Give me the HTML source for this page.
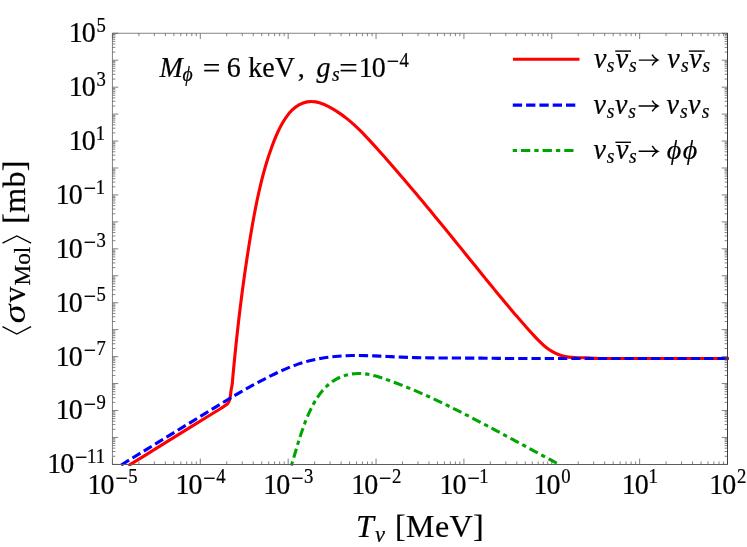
<!DOCTYPE html>
<html><head><meta charset="utf-8"><title>plot</title>
<style>
html,body{margin:0;padding:0;background:#fff;}
body{width:747px;height:547px;overflow:hidden;}
svg{display:block;will-change:transform;}
text{font-family:"Liberation Serif",serif;fill:#000;stroke:#000;stroke-width:0.22px;}
.i{font-style:italic;}
</style></head><body>
<svg width="747" height="547" viewBox="0 0 747 547">
<rect x="0" y="0" width="747" height="547" fill="#fff"/>
<text transform="translate(112.65 493.50) scale(1 1.075)" font-size="28" text-anchor="middle"><tspan letter-spacing="-1">10</tspan><tspan font-size="22" dx="1.9" dy="-7.26">−</tspan><tspan font-size="18.7" dx="0.50" dy="-2.33">5</tspan></text>
<text transform="translate(200.51 493.50) scale(1 1.075)" font-size="28" text-anchor="middle"><tspan letter-spacing="-1">10</tspan><tspan font-size="22" dx="1.9" dy="-7.26">−</tspan><tspan font-size="18.7" dx="0.50" dy="-2.33">4</tspan></text>
<text transform="translate(288.38 493.50) scale(1 1.075)" font-size="28" text-anchor="middle"><tspan letter-spacing="-1">10</tspan><tspan font-size="22" dx="1.9" dy="-7.26">−</tspan><tspan font-size="18.7" dx="0.50" dy="-2.33">3</tspan></text>
<text transform="translate(376.24 493.50) scale(1 1.075)" font-size="28" text-anchor="middle"><tspan letter-spacing="-1">10</tspan><tspan font-size="22" dx="1.9" dy="-7.26">−</tspan><tspan font-size="18.7" dx="0.50" dy="-2.33">2</tspan></text>
<text transform="translate(464.11 493.50) scale(1 1.075)" font-size="28" text-anchor="middle"><tspan letter-spacing="-1">10</tspan><tspan font-size="22" dx="1.9" dy="-7.26">−</tspan><tspan font-size="18.7" dx="-0.50" dy="-2.33">1</tspan></text>
<text transform="translate(551.97 493.50) scale(1 1.075)" font-size="28" text-anchor="middle"><tspan letter-spacing="-1">10</tspan><tspan font-size="18.7" dx="1.80" dy="-9.58">0</tspan></text>
<text transform="translate(639.84 493.50) scale(1 1.075)" font-size="28" text-anchor="middle"><tspan letter-spacing="-1">10</tspan><tspan font-size="18.7" dx="0.80" dy="-9.58">1</tspan></text>
<text transform="translate(727.70 493.50) scale(1 1.075)" font-size="28" text-anchor="middle"><tspan letter-spacing="-1">10</tspan><tspan font-size="18.7" dx="1.80" dy="-9.58">2</tspan></text>
<text transform="translate(105.00 473.27) scale(1 1.075)" font-size="28" text-anchor="end"><tspan letter-spacing="-1">10</tspan><tspan font-size="22" dx="1.9" dy="-7.26">−</tspan><tspan font-size="18.7" dx="-0.50" dy="-2.33">11</tspan></text>
<text transform="translate(105.90 419.38) scale(1 1.075)" font-size="28" text-anchor="end"><tspan letter-spacing="-1">10</tspan><tspan font-size="22" dx="1.9" dy="-7.26">−</tspan><tspan font-size="18.7" dx="0.50" dy="-2.33">9</tspan></text>
<text transform="translate(105.90 365.50) scale(1 1.075)" font-size="28" text-anchor="end"><tspan letter-spacing="-1">10</tspan><tspan font-size="22" dx="1.9" dy="-7.26">−</tspan><tspan font-size="18.7" dx="0.50" dy="-2.33">7</tspan></text>
<text transform="translate(105.90 311.61) scale(1 1.075)" font-size="28" text-anchor="end"><tspan letter-spacing="-1">10</tspan><tspan font-size="22" dx="1.9" dy="-7.26">−</tspan><tspan font-size="18.7" dx="0.50" dy="-2.33">5</tspan></text>
<text transform="translate(105.90 257.72) scale(1 1.075)" font-size="28" text-anchor="end"><tspan letter-spacing="-1">10</tspan><tspan font-size="22" dx="1.9" dy="-7.26">−</tspan><tspan font-size="18.7" dx="0.50" dy="-2.33">3</tspan></text>
<text transform="translate(105.00 203.83) scale(1 1.075)" font-size="28" text-anchor="end"><tspan letter-spacing="-1">10</tspan><tspan font-size="22" dx="1.9" dy="-7.26">−</tspan><tspan font-size="18.7" dx="-0.50" dy="-2.33">1</tspan></text>
<text transform="translate(105.00 149.95) scale(1 1.075)" font-size="28" text-anchor="end"><tspan letter-spacing="-1">10</tspan><tspan font-size="18.7" dx="0.80" dy="-9.58">1</tspan></text>
<text transform="translate(105.90 96.06) scale(1 1.075)" font-size="28" text-anchor="end"><tspan letter-spacing="-1">10</tspan><tspan font-size="18.7" dx="1.80" dy="-9.58">3</tspan></text>
<text transform="translate(105.90 42.17) scale(1 1.075)" font-size="28" text-anchor="end"><tspan letter-spacing="-1">10</tspan><tspan font-size="18.7" dx="1.80" dy="-9.58">5</tspan></text>
<defs><clipPath id="cp"><rect x="110.85" y="31.67" width="618.25" height="434.30"/></clipPath></defs>
<g clip-path="url(#cp)" fill="none">
<path d="M128.33 465.70C128.65 465.50 128.98 465.30 129.30 465.10C136.93 460.37 144.57 455.64 152.20 450.90C161.47 445.14 170.72 439.35 180.00 433.60C188.03 428.62 196.05 423.64 204.10 418.70C208.13 416.23 212.18 413.78 216.20 411.30C218.14 410.10 220.09 408.94 222.00 407.70C223.21 406.92 224.46 406.18 225.60 405.30C226.29 404.76 227.02 404.24 227.60 403.60C228.09 403.06 228.55 402.44 228.90 401.80C229.32 401.03 229.56 400.15 229.80 399.30C230.19 397.91 230.29 396.44 230.50 395.00C230.77 393.17 230.90 391.32 231.20 389.50C231.45 387.99 231.85 386.51 232.10 385.00C232.57 382.08 232.63 379.10 232.90 376.15C233.18 373.21 233.45 370.26 233.74 367.32C234.02 364.37 234.31 361.43 234.60 358.48C234.89 355.54 235.19 352.60 235.49 349.65C235.79 346.71 236.10 343.77 236.42 340.83C236.73 337.89 237.05 334.95 237.37 332.01C237.70 329.08 238.03 326.14 238.37 323.20C238.71 320.27 239.05 317.33 239.40 314.40C239.75 311.46 240.11 308.53 240.47 305.60C240.84 302.66 241.21 299.73 241.58 296.80C241.96 293.87 242.34 290.94 242.74 288.01C243.13 285.08 243.53 282.15 243.93 279.22C244.34 276.29 244.75 273.37 245.18 270.44C245.60 267.51 246.03 264.59 246.47 261.66C246.90 258.74 247.35 255.81 247.80 252.89C248.26 249.97 248.72 247.04 249.19 244.12C249.66 241.20 250.14 238.28 250.63 235.36C251.12 232.44 251.62 229.52 252.12 226.60C252.63 223.68 253.15 220.76 253.68 217.85C254.22 214.93 254.76 212.02 255.33 209.11C255.89 206.21 256.47 203.30 257.08 200.40C257.68 197.51 258.30 194.62 258.95 191.73C259.60 188.85 260.28 185.97 260.98 183.10C261.68 180.23 262.41 177.37 263.18 174.52C263.94 171.67 264.73 168.83 265.56 166.00C266.39 163.18 267.26 160.36 268.16 157.55C269.07 154.75 270.01 151.96 271.00 149.19C271.98 146.41 273.00 143.64 274.09 140.90C275.17 138.16 276.29 135.42 277.52 132.74C278.75 130.04 280.05 127.35 281.49 124.75C282.96 122.12 284.48 119.50 286.24 117.06C287.98 114.64 289.83 112.23 291.98 110.18C294.08 108.18 296.40 106.25 298.93 104.86C301.45 103.48 304.31 102.35 307.13 101.86C309.92 101.36 312.96 101.43 315.77 101.86C318.66 102.30 321.50 103.42 324.22 104.53C327.00 105.66 329.65 107.14 332.26 108.62C334.84 110.08 337.35 111.69 339.80 113.37C342.23 115.04 344.59 116.82 346.90 118.65C349.20 120.49 351.44 122.41 353.63 124.38C355.83 126.35 357.96 128.40 360.06 130.47C362.17 132.54 364.23 134.67 366.27 136.81C368.31 138.96 370.31 141.15 372.31 143.34C374.31 145.53 376.29 147.74 378.27 149.95C380.24 152.15 382.21 154.37 384.17 156.59C386.13 158.80 388.09 161.03 390.04 163.26C391.99 165.48 393.93 167.71 395.87 169.95C397.80 172.18 399.73 174.42 401.66 176.67C403.58 178.91 405.50 181.16 407.41 183.41C409.33 185.66 411.23 187.91 413.14 190.17C415.04 192.43 416.94 194.69 418.84 196.95C420.73 199.22 422.62 201.49 424.51 203.76C426.40 206.03 428.28 208.30 430.17 210.57C432.05 212.85 433.92 215.13 435.80 217.41C437.68 219.69 439.55 221.97 441.42 224.26C443.29 226.54 445.16 228.83 447.03 231.12C448.89 233.41 450.76 235.70 452.62 237.99C454.49 240.29 456.35 242.58 458.21 244.88C460.07 247.17 461.94 249.47 463.80 251.77C465.66 254.07 467.52 256.37 469.38 258.67C471.24 260.97 473.10 263.27 474.97 265.58C476.83 267.88 478.69 270.18 480.56 272.49C482.42 274.79 484.29 277.10 486.15 279.40C488.02 281.70 489.89 284.00 491.77 286.30C493.64 288.60 495.52 290.90 497.40 293.19C499.28 295.48 501.17 297.77 503.06 300.05C504.95 302.32 506.85 304.60 508.75 306.86C510.66 309.12 512.57 311.38 514.49 313.63C516.41 315.87 518.33 318.10 520.27 320.33C522.20 322.55 524.15 324.76 526.11 326.96C528.06 329.15 530.02 331.34 532.00 333.50C533.98 335.66 535.93 337.85 537.99 339.93C540.04 342.00 542.10 344.10 544.35 345.96C546.62 347.84 549.01 349.64 551.55 351.14C554.13 352.67 556.88 354.01 559.70 355.01C562.50 356.01 565.46 356.70 568.40 357.14C571.33 357.59 574.34 357.61 577.31 357.71C580.28 357.81 583.26 357.63 586.23 357.74C589.16 357.85 592.08 358.20 595.00 358.35C603.32 358.79 611.67 358.42 620.00 358.45C656.33 358.57 692.67 358.45 729.00 358.45" stroke="#ff0000" stroke-width="3.1" stroke-linejoin="round"/>
<path d="M120.30 465.50C120.73 465.23 121.17 464.97 121.60 464.70C134.13 457.02 146.67 449.34 159.20 441.65C174.17 432.47 189.14 423.29 204.10 414.10C206.08 412.89 208.06 411.67 210.03 410.46C212.02 409.24 214.00 408.02 215.98 406.81C217.97 405.59 219.96 404.37 221.96 403.16C223.96 401.95 225.96 400.74 227.96 399.54C229.97 398.33 231.98 397.13 234.00 395.94C236.02 394.74 238.04 393.55 240.07 392.38C242.11 391.20 244.14 390.02 246.19 388.87C248.24 387.71 250.30 386.56 252.36 385.42C254.43 384.28 256.50 383.16 258.58 382.05C260.67 380.94 262.76 379.84 264.87 378.76C266.97 377.68 269.09 376.62 271.21 375.57C273.34 374.53 275.48 373.50 277.63 372.50C279.79 371.49 281.95 370.51 284.12 369.57C286.29 368.63 288.48 367.72 290.68 366.85C292.87 365.99 295.07 365.17 297.30 364.40C299.51 363.64 301.74 362.93 303.98 362.28C306.21 361.62 308.45 361.02 310.71 360.47C312.96 359.92 315.23 359.42 317.50 358.97C319.77 358.52 322.05 358.12 324.34 357.77C326.62 357.41 328.92 357.11 331.22 356.84C333.52 356.58 335.83 356.36 338.14 356.18C340.46 356.00 342.78 355.87 345.10 355.76C347.43 355.66 349.76 355.60 352.09 355.56C354.43 355.52 356.78 355.51 359.12 355.52C361.46 355.54 363.81 355.58 366.16 355.64C368.51 355.69 370.87 355.77 373.22 355.86C375.58 355.94 377.94 356.05 380.29 356.15C382.65 356.26 385.01 356.38 387.37 356.49C389.73 356.60 392.09 356.72 394.45 356.83C396.81 356.94 399.17 357.05 401.53 357.15C403.88 357.25 406.24 357.33 408.60 357.41C410.95 357.49 413.30 357.55 415.66 357.61C418.01 357.67 420.36 357.72 422.71 357.77C425.05 357.81 427.40 357.85 429.75 357.88C432.10 357.91 434.44 357.93 436.79 357.96C439.13 357.98 441.48 357.99 443.82 358.01C446.17 358.02 448.51 358.03 450.85 358.04C453.19 358.05 455.53 358.06 457.88 358.06C460.22 358.07 462.56 358.07 464.90 358.08C467.24 358.09 469.58 358.10 471.92 358.11C474.26 358.12 476.60 358.13 478.94 358.14C481.28 358.16 483.62 358.17 485.96 358.20C488.30 358.22 490.64 358.25 492.98 358.28C495.32 358.31 497.66 358.36 500.00 358.40C520.00 358.71 540.00 358.44 560.00 358.45C616.33 358.48 672.67 358.45 729.00 358.45" stroke="#0000ff" stroke-width="3.1" stroke-dasharray="9.28 4" stroke-dashoffset="25.53"/>
<path d="M291.02 466.60C291.08 466.40 291.14 466.20 291.20 466.00C291.78 464.12 292.36 462.25 292.93 460.37C293.49 458.51 294.04 456.64 294.60 454.77C295.16 452.92 295.70 451.06 296.26 449.21C296.81 447.36 297.37 445.51 297.93 443.66C298.50 441.82 299.07 439.97 299.65 438.13C300.24 436.29 300.84 434.45 301.45 432.61C302.07 430.77 302.71 428.93 303.37 427.09C304.03 425.24 304.71 423.40 305.42 421.57C306.14 419.72 306.88 417.87 307.66 416.05C308.44 414.21 309.25 412.38 310.11 410.58C310.97 408.78 311.86 406.99 312.80 405.23C313.74 403.49 314.72 401.75 315.77 400.06C316.81 398.39 317.89 396.73 319.04 395.13C320.19 393.54 321.39 391.98 322.66 390.49C323.92 389.02 325.25 387.59 326.65 386.25C328.05 384.92 329.51 383.65 331.05 382.49C332.59 381.34 334.21 380.28 335.88 379.34C337.55 378.39 339.30 377.56 341.08 376.83C342.86 376.11 344.70 375.49 346.55 375.00C348.40 374.50 350.29 374.12 352.19 373.86C354.08 373.60 356.00 373.46 357.90 373.43C359.80 373.41 361.72 373.52 363.61 373.70C365.52 373.89 367.42 374.20 369.31 374.56C371.21 374.92 373.10 375.38 374.98 375.87C376.88 376.37 378.76 376.95 380.63 377.54C382.52 378.13 384.38 378.78 386.25 379.42C388.12 380.07 389.97 380.74 391.83 381.42C393.68 382.10 395.53 382.79 397.37 383.49C399.21 384.19 401.05 384.90 402.88 385.63C404.71 386.35 406.53 387.08 408.35 387.83C410.17 388.57 411.99 389.32 413.79 390.09C415.60 390.85 417.40 391.62 419.20 392.40C421.00 393.19 422.79 393.98 424.58 394.77C426.37 395.57 428.16 396.38 429.94 397.19C431.72 398.01 433.49 398.83 435.26 399.66C437.03 400.48 438.80 401.32 440.56 402.16C442.33 403.00 444.09 403.85 445.84 404.71C447.60 405.56 449.35 406.42 451.10 407.28C452.85 408.15 454.60 409.02 456.34 409.89C458.08 410.77 459.82 411.65 461.56 412.53C463.30 413.41 465.03 414.30 466.77 415.19C468.50 416.08 470.23 416.98 471.96 417.87C473.68 418.77 475.41 419.67 477.14 420.57C478.86 421.47 480.58 422.37 482.30 423.28C484.02 424.18 485.74 425.09 487.46 426.00C489.18 426.90 490.89 427.81 492.61 428.72C494.32 429.63 496.04 430.54 497.75 431.46C499.47 432.37 501.18 433.28 502.89 434.20C504.60 435.11 506.32 436.03 508.03 436.94C509.74 437.86 511.45 438.78 513.16 439.70C514.87 440.61 516.59 441.54 518.30 442.46C520.01 443.38 521.72 444.30 523.44 445.22C525.15 446.15 526.86 447.07 528.58 448.00C530.29 448.93 532.01 449.85 533.72 450.78C535.44 451.71 537.16 452.64 538.88 453.57C540.60 454.50 542.32 455.43 544.04 456.37C545.77 457.30 547.49 458.24 549.22 459.17C550.94 460.11 552.67 461.04 554.40 461.98C556.13 462.92 557.87 463.86 559.60 464.80" stroke="#00a600" stroke-width="3.1" stroke-dasharray="4.3 4 9.3 4" stroke-dashoffset="20.52"/>
</g>
<path d="M112.45 464.37v-5.8M112.45 33.27v5.8M138.90 464.37v-2.9M138.90 33.27v2.9M154.37 464.37v-2.9M154.37 33.27v2.9M165.35 464.37v-2.9M165.35 33.27v2.9M173.86 464.37v-2.9M173.86 33.27v2.9M180.82 464.37v-2.9M180.82 33.27v2.9M186.70 464.37v-2.9M186.70 33.27v2.9M191.80 464.37v-2.9M191.80 33.27v2.9M196.29 464.37v-2.9M196.29 33.27v2.9M200.31 464.37v-5.8M200.31 33.27v5.8M226.76 464.37v-2.9M226.76 33.27v2.9M242.24 464.37v-2.9M242.24 33.27v2.9M253.21 464.37v-2.9M253.21 33.27v2.9M261.73 464.37v-2.9M261.73 33.27v2.9M268.69 464.37v-2.9M268.69 33.27v2.9M274.57 464.37v-2.9M274.57 33.27v2.9M279.66 464.37v-2.9M279.66 33.27v2.9M284.16 464.37v-2.9M284.16 33.27v2.9M288.18 464.37v-5.8M288.18 33.27v5.8M314.63 464.37v-2.9M314.63 33.27v2.9M330.10 464.37v-2.9M330.10 33.27v2.9M341.08 464.37v-2.9M341.08 33.27v2.9M349.59 464.37v-2.9M349.59 33.27v2.9M356.55 464.37v-2.9M356.55 33.27v2.9M362.43 464.37v-2.9M362.43 33.27v2.9M367.53 464.37v-2.9M367.53 33.27v2.9M372.02 464.37v-2.9M372.02 33.27v2.9M376.04 464.37v-5.8M376.04 33.27v5.8M402.49 464.37v-2.9M402.49 33.27v2.9M417.96 464.37v-2.9M417.96 33.27v2.9M428.94 464.37v-2.9M428.94 33.27v2.9M437.46 464.37v-2.9M437.46 33.27v2.9M444.41 464.37v-2.9M444.41 33.27v2.9M450.30 464.37v-2.9M450.30 33.27v2.9M455.39 464.37v-2.9M455.39 33.27v2.9M459.89 464.37v-2.9M459.89 33.27v2.9M463.91 464.37v-5.8M463.91 33.27v5.8M490.36 464.37v-2.9M490.36 33.27v2.9M505.83 464.37v-2.9M505.83 33.27v2.9M516.81 464.37v-2.9M516.81 33.27v2.9M525.32 464.37v-2.9M525.32 33.27v2.9M532.28 464.37v-2.9M532.28 33.27v2.9M538.16 464.37v-2.9M538.16 33.27v2.9M543.26 464.37v-2.9M543.26 33.27v2.9M547.75 464.37v-2.9M547.75 33.27v2.9M551.77 464.37v-5.8M551.77 33.27v5.8M578.22 464.37v-2.9M578.22 33.27v2.9M593.69 464.37v-2.9M593.69 33.27v2.9M604.67 464.37v-2.9M604.67 33.27v2.9M613.19 464.37v-2.9M613.19 33.27v2.9M620.14 464.37v-2.9M620.14 33.27v2.9M626.03 464.37v-2.9M626.03 33.27v2.9M631.12 464.37v-2.9M631.12 33.27v2.9M635.62 464.37v-2.9M635.62 33.27v2.9M639.64 464.37v-5.8M639.64 33.27v5.8M666.09 464.37v-2.9M666.09 33.27v2.9M681.56 464.37v-2.9M681.56 33.27v2.9M692.54 464.37v-2.9M692.54 33.27v2.9M701.05 464.37v-2.9M701.05 33.27v2.9M708.01 464.37v-2.9M708.01 33.27v2.9M713.89 464.37v-2.9M713.89 33.27v2.9M718.99 464.37v-2.9M718.99 33.27v2.9M723.48 464.37v-2.9M723.48 33.27v2.9M727.50 464.37v-5.8M727.50 33.27v5.8M112.45 464.37h5.8M727.50 464.37h-5.8M112.45 456.26h2.9M727.50 456.26h-2.9M112.45 451.51h2.9M727.50 451.51h-2.9M112.45 448.15h2.9M727.50 448.15h-2.9M112.45 445.54h2.9M727.50 445.54h-2.9M112.45 443.40h2.9M727.50 443.40h-2.9M112.45 441.60h2.9M727.50 441.60h-2.9M112.45 440.04h2.9M727.50 440.04h-2.9M112.45 438.66h2.9M727.50 438.66h-2.9M112.45 437.43h5.8M727.50 437.43h-5.8M112.45 429.32h2.9M727.50 429.32h-2.9M112.45 424.57h2.9M727.50 424.57h-2.9M112.45 421.20h2.9M727.50 421.20h-2.9M112.45 418.59h2.9M727.50 418.59h-2.9M112.45 416.46h2.9M727.50 416.46h-2.9M112.45 414.66h2.9M727.50 414.66h-2.9M112.45 413.09h2.9M727.50 413.09h-2.9M112.45 411.72h2.9M727.50 411.72h-2.9M112.45 410.48h5.8M727.50 410.48h-5.8M112.45 402.37h2.9M727.50 402.37h-2.9M112.45 397.63h2.9M727.50 397.63h-2.9M112.45 394.26h2.9M727.50 394.26h-2.9M112.45 391.65h2.9M727.50 391.65h-2.9M112.45 389.52h2.9M727.50 389.52h-2.9M112.45 387.71h2.9M727.50 387.71h-2.9M112.45 386.15h2.9M727.50 386.15h-2.9M112.45 384.77h2.9M727.50 384.77h-2.9M112.45 383.54h5.8M727.50 383.54h-5.8M112.45 375.43h2.9M727.50 375.43h-2.9M112.45 370.68h2.9M727.50 370.68h-2.9M112.45 367.32h2.9M727.50 367.32h-2.9M112.45 364.71h2.9M727.50 364.71h-2.9M112.45 362.57h2.9M727.50 362.57h-2.9M112.45 360.77h2.9M727.50 360.77h-2.9M112.45 359.21h2.9M727.50 359.21h-2.9M112.45 357.83h2.9M727.50 357.83h-2.9M112.45 356.60h5.8M727.50 356.60h-5.8M112.45 348.48h2.9M727.50 348.48h-2.9M112.45 343.74h2.9M727.50 343.74h-2.9M112.45 340.37h2.9M727.50 340.37h-2.9M112.45 337.76h2.9M727.50 337.76h-2.9M112.45 335.63h2.9M727.50 335.63h-2.9M112.45 333.82h2.9M727.50 333.82h-2.9M112.45 332.26h2.9M727.50 332.26h-2.9M112.45 330.88h2.9M727.50 330.88h-2.9M112.45 329.65h5.8M727.50 329.65h-5.8M112.45 321.54h2.9M727.50 321.54h-2.9M112.45 316.80h2.9M727.50 316.80h-2.9M112.45 313.43h2.9M727.50 313.43h-2.9M112.45 310.82h2.9M727.50 310.82h-2.9M112.45 308.68h2.9M727.50 308.68h-2.9M112.45 306.88h2.9M727.50 306.88h-2.9M112.45 305.32h2.9M727.50 305.32h-2.9M112.45 303.94h2.9M727.50 303.94h-2.9M112.45 302.71h5.8M727.50 302.71h-5.8M112.45 294.60h2.9M727.50 294.60h-2.9M112.45 289.85h2.9M727.50 289.85h-2.9M112.45 286.49h2.9M727.50 286.49h-2.9M112.45 283.87h2.9M727.50 283.87h-2.9M112.45 281.74h2.9M727.50 281.74h-2.9M112.45 279.94h2.9M727.50 279.94h-2.9M112.45 278.37h2.9M727.50 278.37h-2.9M112.45 277.00h2.9M727.50 277.00h-2.9M112.45 275.76h5.8M727.50 275.76h-5.8M112.45 267.65h2.9M727.50 267.65h-2.9M112.45 262.91h2.9M727.50 262.91h-2.9M112.45 259.54h2.9M727.50 259.54h-2.9M112.45 256.93h2.9M727.50 256.93h-2.9M112.45 254.80h2.9M727.50 254.80h-2.9M112.45 252.99h2.9M727.50 252.99h-2.9M112.45 251.43h2.9M727.50 251.43h-2.9M112.45 250.05h2.9M727.50 250.05h-2.9M112.45 248.82h5.8M727.50 248.82h-5.8M112.45 240.71h2.9M727.50 240.71h-2.9M112.45 235.96h2.9M727.50 235.96h-2.9M112.45 232.60h2.9M727.50 232.60h-2.9M112.45 229.99h2.9M727.50 229.99h-2.9M112.45 227.85h2.9M727.50 227.85h-2.9M112.45 226.05h2.9M727.50 226.05h-2.9M112.45 224.49h2.9M727.50 224.49h-2.9M112.45 223.11h2.9M727.50 223.11h-2.9M112.45 221.88h5.8M727.50 221.88h-5.8M112.45 213.77h2.9M727.50 213.77h-2.9M112.45 209.02h2.9M727.50 209.02h-2.9M112.45 205.65h2.9M727.50 205.65h-2.9M112.45 203.04h2.9M727.50 203.04h-2.9M112.45 200.91h2.9M727.50 200.91h-2.9M112.45 199.11h2.9M727.50 199.11h-2.9M112.45 197.54h2.9M727.50 197.54h-2.9M112.45 196.17h2.9M727.50 196.17h-2.9M112.45 194.93h5.8M727.50 194.93h-5.8M112.45 186.82h2.9M727.50 186.82h-2.9M112.45 182.08h2.9M727.50 182.08h-2.9M112.45 178.71h2.9M727.50 178.71h-2.9M112.45 176.10h2.9M727.50 176.10h-2.9M112.45 173.97h2.9M727.50 173.97h-2.9M112.45 172.16h2.9M727.50 172.16h-2.9M112.45 170.60h2.9M727.50 170.60h-2.9M112.45 169.22h2.9M727.50 169.22h-2.9M112.45 167.99h5.8M727.50 167.99h-5.8M112.45 159.88h2.9M727.50 159.88h-2.9M112.45 155.13h2.9M727.50 155.13h-2.9M112.45 151.77h2.9M727.50 151.77h-2.9M112.45 149.16h2.9M727.50 149.16h-2.9M112.45 147.02h2.9M727.50 147.02h-2.9M112.45 145.22h2.9M727.50 145.22h-2.9M112.45 143.66h2.9M727.50 143.66h-2.9M112.45 142.28h2.9M727.50 142.28h-2.9M112.45 141.05h5.8M727.50 141.05h-5.8M112.45 132.93h2.9M727.50 132.93h-2.9M112.45 128.19h2.9M727.50 128.19h-2.9M112.45 124.82h2.9M727.50 124.82h-2.9M112.45 122.21h2.9M727.50 122.21h-2.9M112.45 120.08h2.9M727.50 120.08h-2.9M112.45 118.27h2.9M727.50 118.27h-2.9M112.45 116.71h2.9M727.50 116.71h-2.9M112.45 115.33h2.9M727.50 115.33h-2.9M112.45 114.10h5.8M727.50 114.10h-5.8M112.45 105.99h2.9M727.50 105.99h-2.9M112.45 101.25h2.9M727.50 101.25h-2.9M112.45 97.88h2.9M727.50 97.88h-2.9M112.45 95.27h2.9M727.50 95.27h-2.9M112.45 93.13h2.9M727.50 93.13h-2.9M112.45 91.33h2.9M727.50 91.33h-2.9M112.45 89.77h2.9M727.50 89.77h-2.9M112.45 88.39h2.9M727.50 88.39h-2.9M112.45 87.16h5.8M727.50 87.16h-5.8M112.45 79.05h2.9M727.50 79.05h-2.9M112.45 74.30h2.9M727.50 74.30h-2.9M112.45 70.94h2.9M727.50 70.94h-2.9M112.45 68.32h2.9M727.50 68.32h-2.9M112.45 66.19h2.9M727.50 66.19h-2.9M112.45 64.39h2.9M727.50 64.39h-2.9M112.45 62.82h2.9M727.50 62.82h-2.9M112.45 61.45h2.9M727.50 61.45h-2.9M112.45 60.21h5.8M727.50 60.21h-5.8M112.45 52.10h2.9M727.50 52.10h-2.9M112.45 47.36h2.9M727.50 47.36h-2.9M112.45 43.99h2.9M727.50 43.99h-2.9M112.45 41.38h2.9M727.50 41.38h-2.9M112.45 39.25h2.9M727.50 39.25h-2.9M112.45 37.44h2.9M727.50 37.44h-2.9M112.45 35.88h2.9M727.50 35.88h-2.9M112.45 34.50h2.9M727.50 34.50h-2.9M112.45 33.27h5.8M727.50 33.27h-5.8" stroke="#5a5a5a" stroke-width="0.75" fill="none"/>
<path d="M112.45 464.77V33.27H727.50" fill="none" stroke="#5a5a5a" stroke-width="0.75" stroke-linejoin="miter"/>
<path d="M727.5 32.97V465" fill="none" stroke="#3c3c3c" stroke-width="1"/>
<path d="M112.05 464.5H728" fill="none" stroke="#5c5c5c" stroke-width="1"/>
<path d="M513 59.3H579.5" stroke="#ff0000" stroke-width="3.1"/>
<path d="M512.8 105.1H575.3" stroke="#0000ff" stroke-width="3.1" stroke-dasharray="9.3 4"/>
<path d="M512.7 150.5H573.5" stroke="#00a600" stroke-width="3.1" stroke-dasharray="4.3 4 9.3 4.02"/>
<text transform="translate(159.48 77.00) scale(1.0 1.055)" font-size="28" class="i">M</text>
<text transform="translate(182.45 80.50) scale(1.0 1.03)" font-size="19.6" class="i">ϕ</text>
<text transform="translate(202.74 77.00) scale(1.12 1.0)" font-size="28">=</text>
<text transform="translate(226.70 77.00) scale(1.0 1.055)" font-size="28">6</text>
<text transform="translate(248.27 77.00) scale(1.0 1.04)" font-size="28">keV</text>
<text x="297.63" y="77.00" font-size="28">,</text>
<text transform="translate(316.59 77.00) scale(1.0 1.03)" font-size="28" class="i">g</text>
<text transform="translate(331.96 80.80) scale(1.0 1.04)" font-size="19.6" class="i">s</text>
<text transform="translate(339.17 77.00) scale(1.17 1.0)" font-size="28">=</text>
<text transform="translate(358.74 77.00) scale(1 1.075)" font-size="28" text-anchor="start"><tspan letter-spacing="-1">10</tspan><tspan font-size="22" dx="1.9" dy="-7.26">−</tspan><tspan font-size="18.7" dx="0.50" dy="-2.33">4</tspan></text>
<text transform="translate(594.02 67.75) scale(1 1.06)" font-size="28" class="i">ν</text>
<text transform="translate(606.66 71.60) scale(1 1.05)" font-size="19.6" class="i">s</text>
<text transform="translate(615.82 67.75) scale(1 1.06)" font-size="28" class="i">ν</text>
<text transform="translate(628.96 71.60) scale(1 1.05)" font-size="19.6" class="i">s</text>
<path d="M615.20 51.10H631.00" stroke="#000" stroke-width="1.4"/>
<path d="M638.80 60.10H657.20M652.10 54.70Q654.20 58.60 657.80 60.10Q654.20 61.60 652.10 65.50" fill="none" stroke="#000" stroke-width="1.45" stroke-linecap="butt" stroke-linejoin="miter"/>
<text transform="translate(667.22 67.75) scale(1 1.06)" font-size="28" class="i">ν</text>
<text transform="translate(680.96 71.60) scale(1 1.05)" font-size="19.6" class="i">s</text>
<text transform="translate(689.32 67.75) scale(1 1.06)" font-size="28" class="i">ν</text>
<text transform="translate(702.46 71.60) scale(1 1.05)" font-size="19.6" class="i">s</text>
<path d="M688.80 51.10H704.80" stroke="#000" stroke-width="1.4"/>
<text transform="translate(593.62 113.65) scale(1 1.06)" font-size="28" class="i">ν</text>
<text transform="translate(606.66 117.50) scale(1 1.05)" font-size="19.6" class="i">s</text>
<text transform="translate(614.92 113.65) scale(1 1.06)" font-size="28" class="i">ν</text>
<text transform="translate(628.36 117.50) scale(1 1.05)" font-size="19.6" class="i">s</text>
<path d="M638.60 106.00H657.30M652.20 100.60Q654.30 104.50 657.90 106.00Q654.30 107.50 652.20 111.40" fill="none" stroke="#000" stroke-width="1.45" stroke-linecap="butt" stroke-linejoin="miter"/>
<text transform="translate(666.52 113.65) scale(1 1.06)" font-size="28" class="i">ν</text>
<text transform="translate(679.96 117.50) scale(1 1.05)" font-size="19.6" class="i">s</text>
<text transform="translate(688.02 113.65) scale(1 1.06)" font-size="28" class="i">ν</text>
<text transform="translate(701.86 117.50) scale(1 1.05)" font-size="19.6" class="i">s</text>
<text transform="translate(593.62 158.95) scale(1 1.06)" font-size="28" class="i">ν</text>
<text transform="translate(606.66 162.80) scale(1 1.05)" font-size="19.6" class="i">s</text>
<text transform="translate(616.02 158.95) scale(1 1.06)" font-size="28" class="i">ν</text>
<text transform="translate(628.96 162.80) scale(1 1.05)" font-size="19.6" class="i">s</text>
<path d="M615.40 142.30H631.00" stroke="#000" stroke-width="1.4"/>
<path d="M638.60 151.30H657.30M652.20 145.90Q654.30 149.80 657.90 151.30Q654.30 152.80 652.20 156.70" fill="none" stroke="#000" stroke-width="1.45" stroke-linecap="butt" stroke-linejoin="miter"/>
<text x="666.86" y="158.60" font-size="28" class="i">ϕ</text>
<text x="682.76" y="158.60" font-size="28" class="i">ϕ</text>
<text x="356.11" y="537.20" font-size="32" class="i">T</text>
<text x="374.99" y="542.20" font-size="22.4" class="i">ν</text>
<text x="395.02" y="537.20" font-size="32" letter-spacing="0.4">[MeV]</text>
<g transform="translate(24.8 335) rotate(-90)">
<path d="M8.4 -22.3L0.9 -8L8.4 6.3" fill="none" stroke="#000" stroke-width="1.35" stroke-linejoin="miter"/>
<path d="M91.9 -22.3L99.1 -8L91.9 6.3" fill="none" stroke="#000" stroke-width="1.35" stroke-linejoin="miter"/>
<text transform="translate(11.45 0) scale(1.2 1)" font-size="32" class="i" style="stroke:none">σ</text>
<text x="32.50" y="0.00" font-size="32">v</text>
<text x="49.63" y="5.40" font-size="23.2">Mol</text>
<text x="111.33" y="0.00" font-size="32" letter-spacing="0.33">[mb]</text>
</g>
</svg>
</body></html>
